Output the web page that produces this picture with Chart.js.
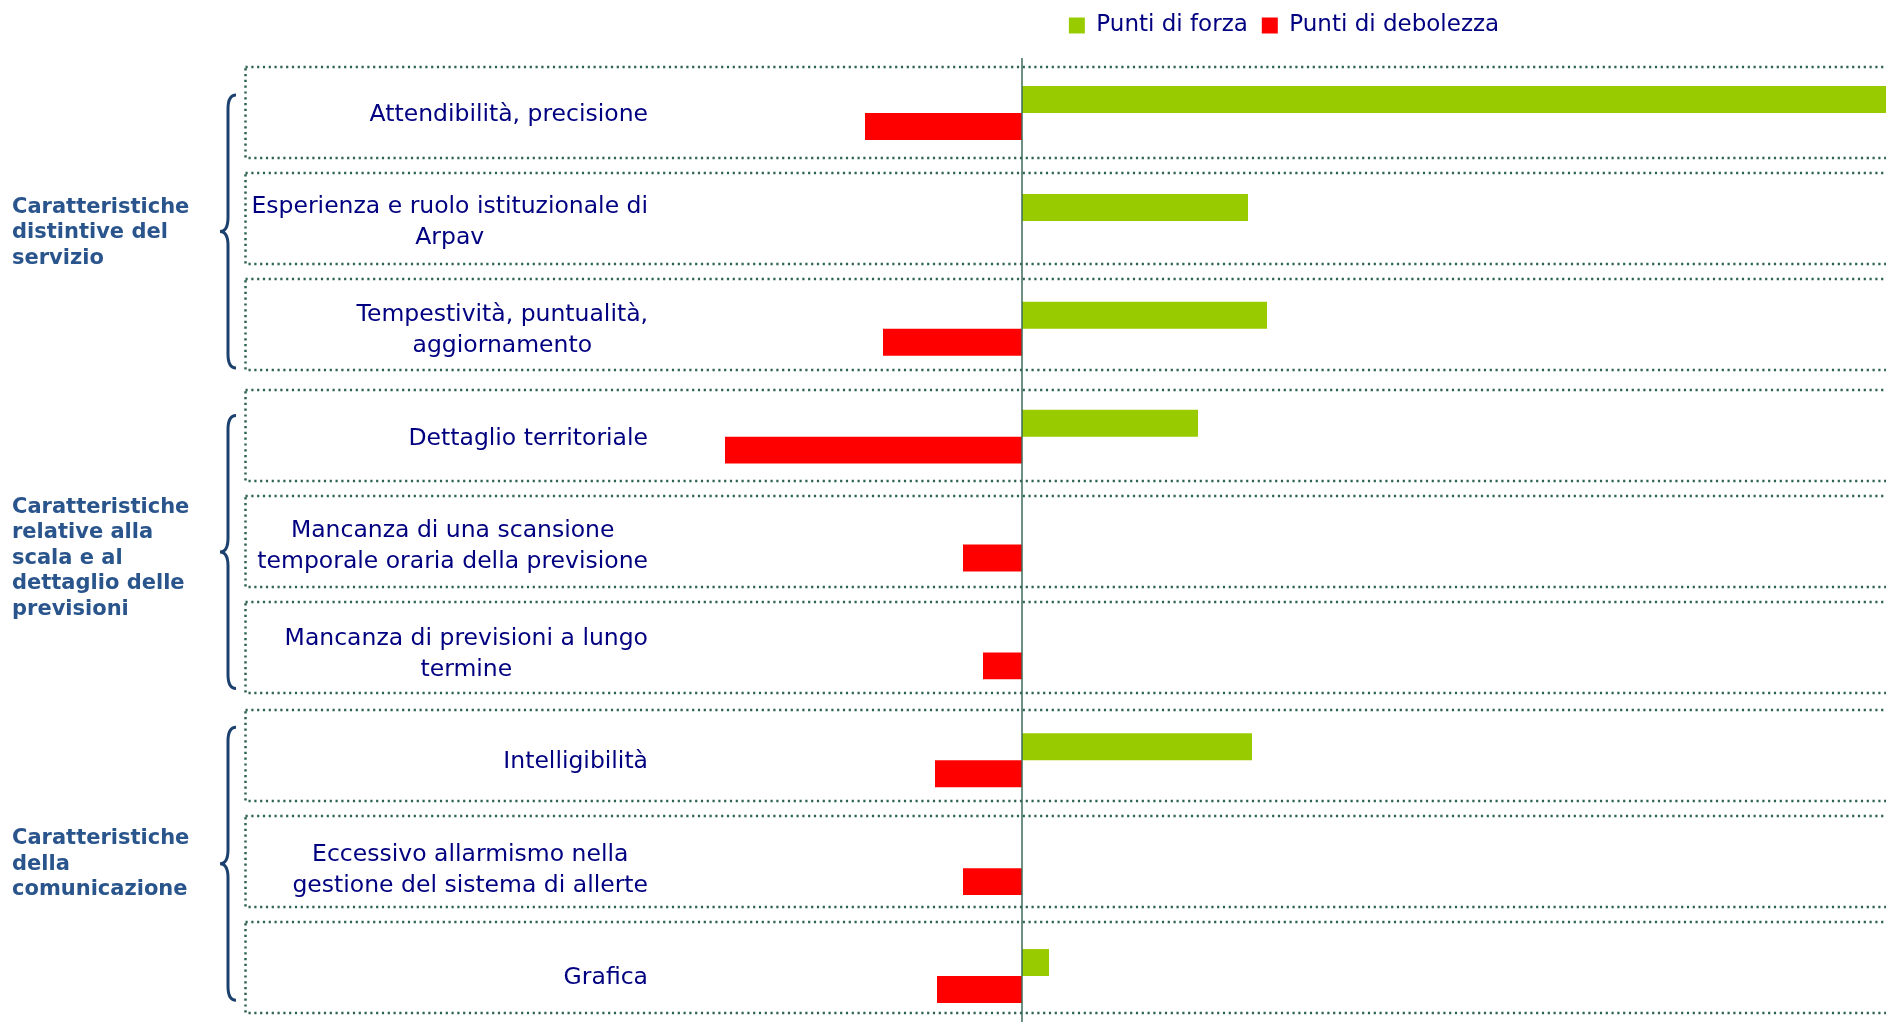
<!DOCTYPE html>
<html lang="it">
<head>
<meta charset="utf-8">
<title>Punti di forza e di debolezza</title>
<script src="https://cdn.jsdelivr.net/npm/chart.js@4.4.1/dist/chart.umd.min.js"></script>
<style>
  html, body { margin: 0; padding: 0; background: #fff; overflow: hidden; }
  #wrap { position: relative; width: 1886px; height: 1022px; }
</style>
</head>
<body>
<div id="wrap"><canvas id="chart"></canvas></div>
<script>
// category labels (one entry per line)
const categories = [
  ['Attendibilità, precisione'],
  ['Esperienza e ruolo istituzionale di', 'Arpav'],
  ['Tempestività, puntualità,', 'aggiornamento'],
  ['Dettaglio territoriale'],
  ['Mancanza di una scansione', 'temporale oraria della previsione'],
  ['Mancanza di previsioni a lungo', 'termine'],
  ['Intelligibilità'],
  ['Eccessivo allarmismo nella', 'gestione del sistema di allerte'],
  ['Grafica'],
];

const groupNames = [
  ['Caratteristiche', 'distintive del', 'servizio'],
  ['Caratteristiche', 'relative alla', 'scala e al', 'dettaglio delle', 'previsioni'],
  ['Caratteristiche', 'della', 'comunicazione'],
];
const groupRanges = [[0, 2], [3, 5], [6, 8]];

const seriesNames = ['Punti di forza', 'Punti di debolezza'];
const forza = [100, 22.6, 24.5, 17.6, null, null, 23.0, null, 2.7];
const debolezza = [-15.7, null, -13.9, -29.7, -5.9, -3.9, -8.7, -5.9, -8.5];

const X_MIN = -34;
const X_MAX = 86.4;

// styling
const NAVY = '#000080';
const GROUP_BLUE = '#2a558c';
const BRACE_BLUE = '#1d416f';
const AXIS_GREEN = '#3d6b58';
const DOT_GREEN = '#2f6352';
const LABEL_FONT = '23.5px "DejaVu Sans"';
const GROUP_FONT = 'bold 21px "DejaVu Sans"';
const LABEL_RIGHT = 648;
const BOX_LEFT = 245.5;
const BOX_DRIFT = [0, 0.5, 3.8];
const GROUP_TEXT_SHIFT = [12, 14, -4];
const BRACE_SHIFT = [10.5, 7.5, -4.5];

function groupOf(i) {
  return groupRanges.findIndex(([a, b]) => i >= a && i <= b);
}

function drawBrace(ctx, top, bottom, mid) {
  const xr = 236, xm = 228, xt = 220, r = 14;
  ctx.beginPath();
  ctx.moveTo(xr, top);
  ctx.quadraticCurveTo(xm, top, xm, top + r);
  ctx.lineTo(xm, mid - r);
  ctx.quadraticCurveTo(xm, mid, xt, mid);
  ctx.quadraticCurveTo(xm, mid, xm, mid + r);
  ctx.lineTo(xm, bottom - r);
  ctx.quadraticCurveTo(xm, bottom, xr, bottom);
  ctx.stroke();
}

const decor = {
  id: 'decor',
  beforeDatasetsDraw(chart) {
    const { ctx } = chart;
    const y = chart.scales.y;
    ctx.save();
    ctx.strokeStyle = DOT_GREEN;
    ctx.lineWidth = 2.5;
    ctx.setLineDash([2.2, 3.6]);
    categories.forEach((_, i) => {
      const g = groupOf(i);
      const k = i - groupRanges[g][0];
      const yc = y.getPixelForValue(i) - 0.5 - 2.1 * k - BOX_DRIFT[g];
      ctx.strokeRect(BOX_LEFT, Math.round(yc - 45.5), 1700, 91);
    });
    ctx.restore();
  },
  afterDatasetsDraw(chart) {
    const { ctx } = chart;
    const x0 = chart.scales.x.getPixelForValue(0);
    ctx.save();
    ctx.strokeStyle = AXIS_GREEN;
    ctx.lineWidth = 1.5;
    ctx.beginPath();
    ctx.moveTo(x0, 58);
    ctx.lineTo(x0, chart.height);
    ctx.stroke();
    ctx.restore();
  },
  afterDraw(chart) {
    const { ctx } = chart;
    const y = chart.scales.y;
    ctx.save();
    ctx.textBaseline = 'middle';

    // category labels, lines centred within a right-aligned block
    ctx.font = LABEL_FONT;
    ctx.fillStyle = NAVY;
    ctx.textAlign = 'center';
    categories.forEach((lines, i) => {
      const yc = y.getPixelForValue(i) + 2;
      const w = Math.max(...lines.map((l) => ctx.measureText(l).width));
      const cx = LABEL_RIGHT - w / 2;
      lines.forEach((l, k) => {
        ctx.fillText(l, cx, yc + (k - (lines.length - 1) / 2) * 31);
      });
    });

    // group labels and braces
    groupRanges.forEach(([a, b], g) => {
      const mid = y.getPixelForValue((a + b) / 2);
      ctx.font = GROUP_FONT;
      ctx.fillStyle = GROUP_BLUE;
      ctx.textAlign = 'left';
      const lines = groupNames[g];
      const tc = mid + GROUP_TEXT_SHIFT[g];
      lines.forEach((l, k) => {
        ctx.fillText(l, 12, tc + (k - (lines.length - 1) / 2) * 25.5);
      });
      const bc = mid + BRACE_SHIFT[g];
      ctx.strokeStyle = BRACE_BLUE;
      ctx.lineWidth = 3;
      drawBrace(ctx, bc - 136.5, bc + 136.5, bc);
    });
    ctx.restore();
  },
};

new Chart(document.getElementById('chart'), {
  type: 'bar',
  data: {
    labels: categories,
    datasets: [
      { label: seriesNames[0], data: forza, backgroundColor: '#99cc00', borderWidth: 0, clip: false },
      { label: seriesNames[1], data: debolezza, backgroundColor: '#ff0000', borderWidth: 0, clip: false },
    ],
  },
  options: {
    indexAxis: 'y',
    responsive: true,
    maintainAspectRatio: false,
    animation: false,
    categoryPercentage: 0.5,
    barPercentage: 1.0,
    layout: { padding: { left: 682, right: 0, top: 0, bottom: 46 } },
    plugins: {
      legend: {
        position: 'top',
        fullSize: false,
        labels: {
          boxWidth: 16,
          boxHeight: 16,
          padding: 14,
          color: NAVY,
          font: { family: 'DejaVu Sans', size: 23 },
        },
      },
      tooltip: { enabled: false },
    },
    scales: {
      x: {
        position: 'top',
        min: X_MIN,
        max: X_MAX,
        grid: { display: false },
        border: { display: false },
        ticks: { display: false },
        afterFit: (scale) => { scale.height = 66; },
      },
      y: {
        display: false,
        offset: false,
        grid: { display: false },
      },
    },
  },
  plugins: [decor],
});
</script>
</body>
</html>
